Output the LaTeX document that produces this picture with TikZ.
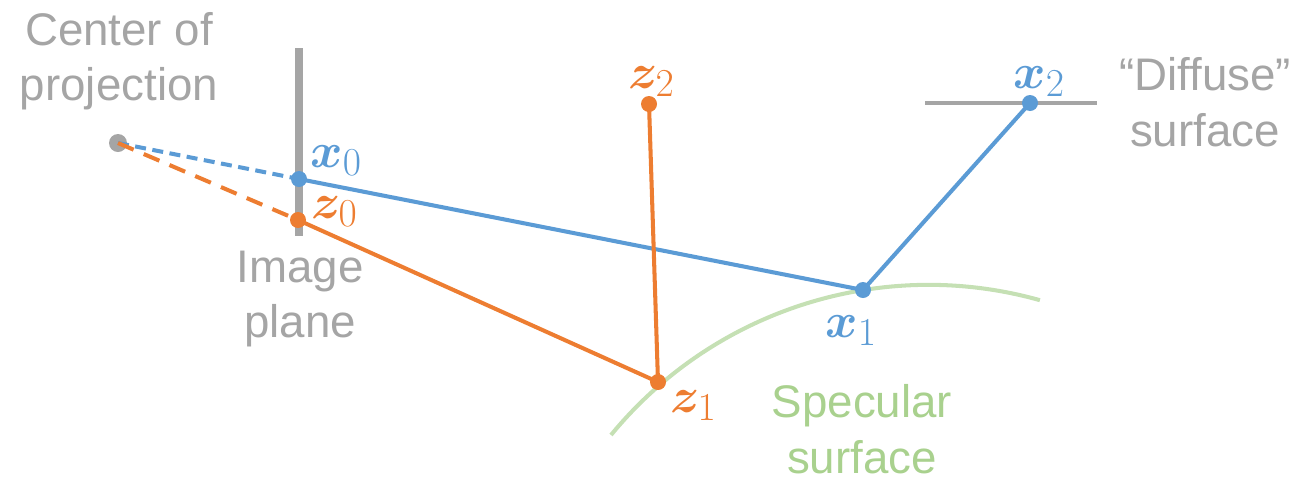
\RequirePackage{fix-cm}
\documentclass[tikz,border=0pt]{standalone}
\usepackage{amsmath,bm}
\usepackage{fontspec}
\setmainfont{Liberation Sans}
\definecolor{cblue}{HTML}{5B9BD5}
\definecolor{corange}{HTML}{ED7D31}
\definecolor{cgray}{HTML}{A5A5A5}
\definecolor{cgreen}{HTML}{A9D18E}
\definecolor{cgreenl}{HTML}{C5E0B4}
\newcommand{\sub}[1]{_{\scalebox{1.15}{$\scriptstyle #1$}}}
\begin{document}
\begin{tikzpicture}[x=0.02cm,y=-0.02cm,
  lbl/.style={font=\fontsize{26}{31.5}\selectfont, align=center, inner sep=0pt},
  mlbl/.style={font=\fontsize{28}{32}\selectfont, inner sep=0pt, anchor=base west},
  ray/.style={line width=2.3pt, line cap=round},
  bdot/.style={fill=cblue},
  odot/.style={fill=corange}]
\useasboundingbox (0,0) rectangle (1300,481);
% points
\coordinate (c) at (118,143);
\coordinate (x0) at (299,179);
\coordinate (z0) at (298,220);
\coordinate (x1) at (863,290);
\coordinate (x2) at (1030,103);
\coordinate (z1) at (658,382);
\coordinate (z2) at (649,104);
\coordinate (pt) at (299,48);
\coordinate (pb) at (299,236);
\coordinate (dl) at (925,103);
\coordinate (dr) at (1097,103);
\coordinate (sa) at (611,435);
% surfaces
\draw[cgray, line width=4.5pt] (pt) -- (pb);
\draw[cgray, line width=2.2pt] (dl) -- (dr);
\draw[cgreenl, line width=2.3pt] (sa) arc[start angle=140.6, end angle=74.3, radius=8.224cm];
\fill[cgray] (c) circle (0.18cm);
% rays
\draw[ray, cblue, line cap=butt, dash pattern=on 0.22cm off 0.13cm] (c) -- (x0);
\draw[ray, corange, line cap=butt, dash pattern=on 0.34cm off 0.22cm] (c) -- (z0);
\draw[ray, cblue] (x0) -- (x1) -- (x2);
\draw[ray, corange] (z0) -- (z1) -- (z2);
% dots
\fill[bdot] (x0) circle (0.16cm);
\fill[bdot] (x1) circle (0.16cm);
\fill[bdot] (x2) circle (0.16cm);
\fill[odot] (z0) circle (0.16cm);
\fill[odot] (z1) circle (0.16cm);
\fill[odot] (z2) circle (0.16cm);
% point labels
\node[mlbl, text=cblue] (lx0) at (310,167) {$\bm{x}\sub{0}$};
\node[mlbl, text=corange] (lz0) at (311,218) {$\bm{z}\sub{0}$};
\node[mlbl, text=corange] (lz2) at (628,88) {$\bm{z}\sub{2}$};
\node[mlbl, text=cblue] (lx1) at (825,337) {$\bm{x}\sub{1}$};
\node[mlbl, text=corange] (lz1) at (670,412) {$\bm{z}\sub{1}$};
\node[mlbl, text=cblue] (lx2) at (1013,88) {$\bm{x}\sub{2}$};
% text labels
\node[lbl, text=cgray] (cop) at (119,61) {Center of\\projection};
\node[lbl, text=cgray] (ip) at (300,299) {Image\\plane};
\node[lbl, text=cgreen] (ss) at (862,429) {Specular\\surface};
\node[lbl, text=cgray] (ds) at (1205,102) {“Diffuse”\\surface};
\end{tikzpicture}
\end{document}
